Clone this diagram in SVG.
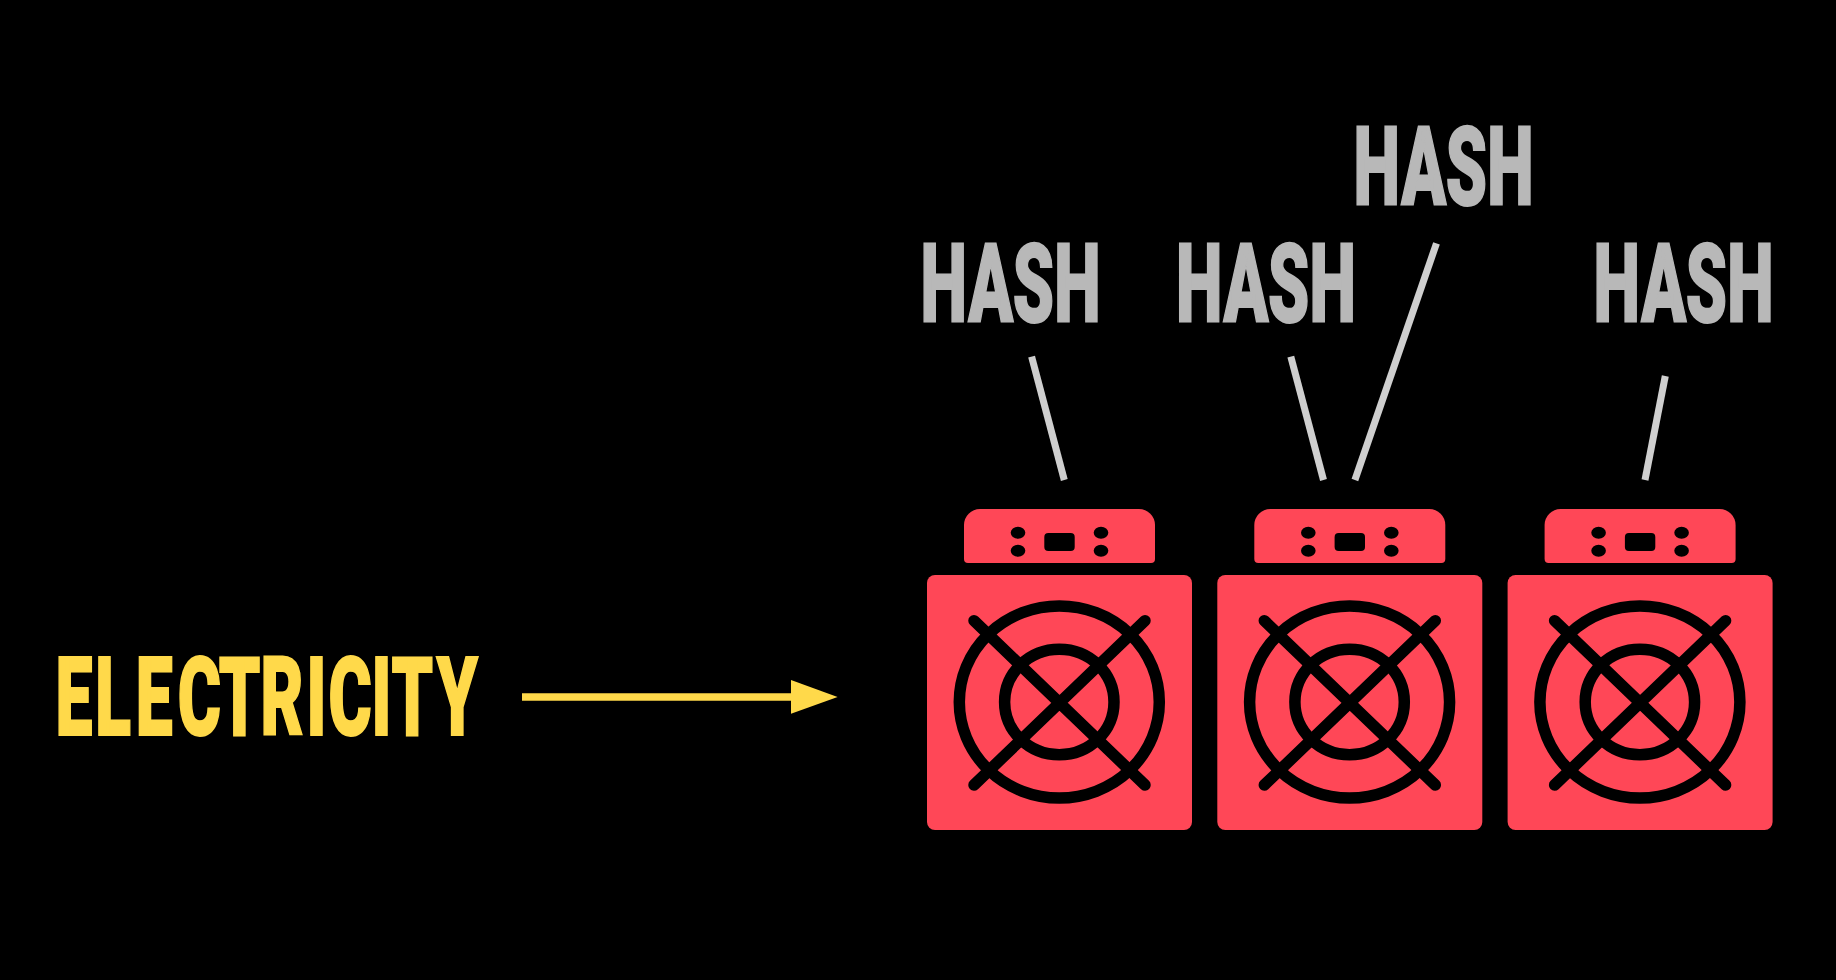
<svg xmlns="http://www.w3.org/2000/svg" width="1836" height="980" viewBox="0 0 1836 980">
<style>
.t{font-family:Roboto,"Liberation Sans",Arial,sans-serif;font-weight:900;font-size:110px;stroke-width:2px}
.h{fill:#b8b8b8;stroke:#b8b8b8}
.e{fill:#ffd94a;stroke:#ffd94a}
.l{stroke:#cfcfcf;stroke-width:7;fill:none}
.b{fill:#ff4757}
.k{fill:none;stroke:#000;stroke-width:11.5;stroke-linecap:round}
.d{fill:#000}
</style>
<defs>
<g id="miner">
<path class="b" d="M37 16a16 16 0 0 1 16-16h159a16 16 0 0 1 16 16v34a4 4 0 0 1-4 4h-183a4 4 0 0 1-4-4z"/>
<ellipse class="d" cx="91" cy="23.7" rx="7.3" ry="6"/><ellipse class="d" cx="91" cy="41.7" rx="7.3" ry="6"/>
<ellipse class="d" cx="174" cy="23.7" rx="7.3" ry="6"/><ellipse class="d" cx="174" cy="41.7" rx="7.3" ry="6"/>
<rect class="d" x="117.3" y="24" width="30.4" height="18" rx="4"/>
<rect class="b" x="0" y="66" width="265" height="255" rx="8"/>
<ellipse class="k" cx="132.3" cy="193" rx="100" ry="96"/>
<ellipse class="k" cx="132.3" cy="193" rx="54.7" ry="52.7"/>
<path class="k" d="M47 111.7L218 276M218 111.7L47 276"/>
</g>
</defs>
<rect width="1836" height="980" fill="#000"/>
<g id="connectors">
<path class="l" d="M1031.6 356.7L1064.3 480"/>
<path class="l" d="M1290.8 356.7L1323.5 480"/>
<path class="l" d="M1436.5 243.3L1354.9 480"/>
<path class="l" d="M1665.3 376L1645 480"/>
<path d="M522 697H795" stroke="#ffd94a" stroke-width="7.5" fill="none"/>
<path d="M791 680L837.6 697L791 713.7z" fill="#ffd94a"/>
</g>
<g id="miner1"><use href="#miner" x="927" y="509"/></g>
<g id="miner2"><use href="#miner" x="1217.3" y="509"/></g>
<g id="miner3"><use href="#miner" x="1507.6" y="509"/></g>
<g id="label-electricity"><text class="t e" transform="scale(.6 1)" y="735" x="92.5 158.6 226.3 296.3 364.5 434.1 510.8 547.5 619.1 652.6 727.5">ELECTRICITY</text></g>
<g id="hash1"><text class="t h" transform="translate(920.5 321.7) scale(.6 1)" x="0 79.5 153.7 222.8">HASH</text></g>
<g id="hash2"><text class="t h" transform="translate(1175.9 321.7) scale(.6 1)" x="0 79.5 153.7 222.8">HASH</text></g>
<g id="hash3"><text class="t h" transform="translate(1353.5 205) scale(.6 1)" x="0 79.5 153.7 222.8">HASH</text></g>
<g id="hash4"><text class="t h" transform="translate(1593.5 321.7) scale(.6 1)" x="0 79.5 153.7 222.8">HASH</text></g>
</svg>
